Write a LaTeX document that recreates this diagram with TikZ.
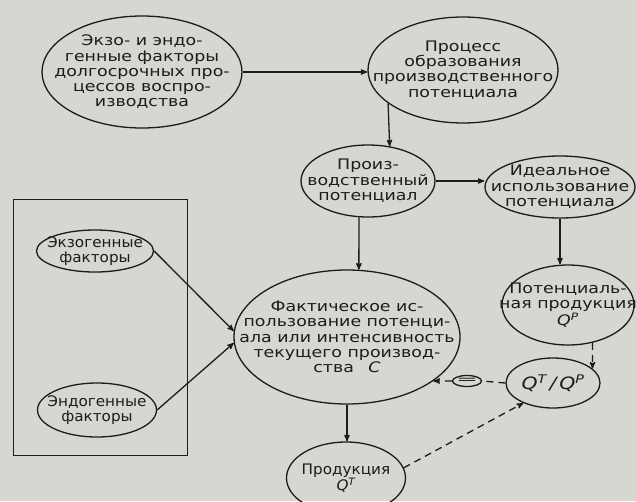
\documentclass[tikz,border=0pt]{standalone}
\usepackage{fontspec}
\newfontfamily\diafont[FakeStretch=1.2]{DejaVu Sans}
\newfontfamily\diafontn[FakeStretch=1.05]{DejaVu Sans}
\usetikzlibrary{arrows,shapes.geometric}

\definecolor{paper}{RGB}{213,215,208}
\definecolor{ink}{RGB}{28,28,26}

\tikzset{
	blob/.style={ellipse, draw, inner sep=0pt},
	txt/.style={align=center, inner sep=0pt,
		font=\diafont\fontsize{14.5}{15.3}\selectfont},
	txtn/.style={txt, font=\diafontn\fontsize{14.5}{15.3}\selectfont},
	dashlink/.style={dash pattern=on 7pt off 5pt},
}

\begin{document}
\begin{tikzpicture}[x=1pt, y=-1pt, >=stealth', color=ink, line width=1.3pt]
	% Page
	\fill [paper] (0,0) rectangle (636,501);
	\clip (0,0) rectangle (636,501);

	% Nodes {longf, proc, pot, ideal, fact, qp, ratio, eq, prod}
	\node [blob, minimum width=200, minimum height=112] (longf) at (142,72)
	[label={[txt]center:{Экзо- и эндо-\\генные факторы\\долгосрочных про-\\цессов воспро-\\изводства}}] {};
	\node [blob, minimum width=190, minimum height=106] (proc)  at (463,70)
	[label={[txt]center:{Процесс\\образования\\производственного\\потенциала}}] {};
	\node [blob, minimum width=134, minimum height=72]  (pot)   at (368,181)
	[label={[txt]center:{Произ-\\водственный\\потенциал}}] {};
	\node [blob, minimum width=150, minimum height=62]  (ideal) at (560,187)
	[label={[txt]center:{Идеальное\\использование\\потенциала}}] {};
	\node [blob, minimum width=226, minimum height=134] (fact)  at (347,337)
	[label={[txt]center:{Фактическое ис-\\пользование потенци-\\ала или интенсивность\\текущего производ-\\ства\quad{\itshape C}}}] {};
	\node [blob, minimum width=132, minimum height=80]  (qp)    at (568,305)
	[label={[txt]center:{Потенциаль-\\ная продукция\\{\itshape Q\textsuperscript{P}}}}] {};
	\node [blob, minimum width=94, minimum height=50]   (ratio) at (553,383)
	[label={[txt, font=\diafont\fontsize{17}{17}\selectfont\itshape]center:{Q\textsuperscript{T}\,/\,Q\textsuperscript{P}}}] {};
	\node [blob, minimum width=29, minimum height=11]   (eq)    at (467,381)
	[label={[txt]center:{\scalebox{1.5}[0.8]{=}}}] {};
	\node [blob, minimum width=119, minimum height=72]  (prod)  at (346,478)
	[label={[txtn]center:{Продукция\\{\itshape Q\textsuperscript{T}}}}] {};

	% Box of the factors
	\draw [line width=1pt] (13,199) rectangle (187,455);
	\node [blob, minimum width=117, minimum height=42]  (exo)   at (95,251)
	[label={[txtn]center:{Экзогенные\\факторы}}] {};
	\node [blob, minimum width=119, minimum height=54]  (endo)  at (97,410)
	[label={[txtn]center:{Эндогенные\\факторы}}] {};

	% Top path
	\draw [->] (longf.east) -- (proc.west |- longf.east);
	\path [->] (proc.204) edge (pot.58);
	\draw [->] (pot.east) -- (ideal.west |- pot.east);

	% Down paths
	\path [->] (pot.256) edge (fact.80);
	\draw [->] (ideal.south) -- (ideal.south |- qp.north);
	\draw [->] (fact.south) -- (fact.south |- prod.north);

	% Factors
	\path [->] (exo.east)  edge (fact.177);
	\path [->] (endo.east) edge (fact.183);

	% Dashed links
	\path [->, dashlink] (qp.303)     edge (ratio.20);
	\path [dashlink]     (ratio.west) edge (eq.east);
	\path [->, dashlink] (eq.west)    edge (fact.333);
	\path [->, dashlink] (prod.10)    edge (ratio.214);
\end{tikzpicture}
\end{document}
